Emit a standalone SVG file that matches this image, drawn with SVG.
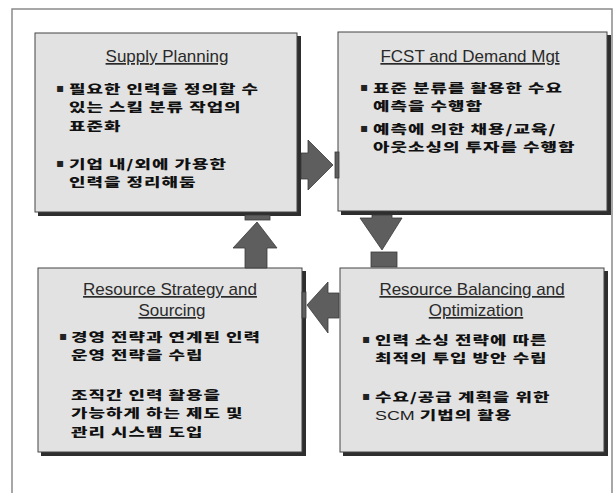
<svg xmlns="http://www.w3.org/2000/svg" width="614" height="493" viewBox="0 0 614 493">
<style>
.frame{fill:none;stroke:#8a8a8a;stroke-width:1.5}
.box{fill:#e2e2e2;stroke:#444;stroke-width:1}
.shadow{fill:#2e2e2e}
.title{font-family:"Liberation Sans",Arial,sans-serif;font-size:17px;fill:#2a2a2a;text-anchor:middle;text-decoration:underline}
.ko{font-family:"Noto Sans CJK KR","Noto Sans",sans-serif;font-size:16px;font-weight:900;fill:#111;letter-spacing:0.9px}
.lat{font-family:"Liberation Sans",Arial,sans-serif;font-weight:normal;letter-spacing:0;fill:#222}
.bul{font-family:"DejaVu Sans",sans-serif;font-size:12px;fill:#222}
.arrow{fill:#5e5e5e;stroke:#3a3a3a;stroke-width:0.8}
</style>
<rect x="0" y="0" width="614" height="493" fill="#ffffff"/>
<path class="frame" d="M12,493 V9 H612 V493"/>

<g id="supply-planning">
  <rect class="shadow" x="38" y="36" width="263" height="180"/>
  <rect class="box" x="35" y="33" width="262" height="179"/>
  <text class="title" x="167" y="62">Supply Planning</text>
  <text class="bul" x="56" y="92">▪</text>
  <text class="ko" transform="translate(69,94) scale(1.12,0.77)" x="0" y="0">필요한 인력을 정의할 수<tspan x="0" dy="24">있는 스킬 분류 작업의</tspan><tspan x="0" dy="24">표준화</tspan></text>
  <text class="bul" x="56" y="167">▪</text>
  <text class="ko" transform="translate(69,169) scale(1.12,0.77)" x="0" y="0">기업 내/외에 가용한<tspan x="0" dy="23.4">인력을 정리해둠</tspan></text>
</g>

<g id="fcst-demand">
  <rect class="shadow" x="341" y="35" width="270" height="180"/>
  <rect class="box" x="338" y="32" width="269" height="179"/>
  <text class="title" x="470" y="62">FCST and Demand Mgt</text>
  <text class="bul" x="360" y="91">▪</text>
  <text class="ko" transform="translate(373,93) scale(1.12,0.77)" x="0" y="0">표준 분류를 활용한 수요<tspan x="0" dy="23.4">예측을 수행함</tspan></text>
  <text class="bul" x="360" y="132">▪</text>
  <text class="ko" transform="translate(373,134) scale(1.12,0.77)" x="0" y="0">예측에 의한 채용/교육/<tspan x="0" dy="23.4">아웃소싱의 투자를 수행함</tspan></text>
</g>

<g id="resource-strategy">
  <rect class="shadow" x="41" y="271" width="265" height="185"/>
  <rect class="box" x="38" y="268" width="264" height="184"/>
  <text class="title" x="170" y="295">Resource Strategy and</text>
  <text class="title" x="172" y="316">Sourcing</text>
  <text class="bul" x="59" y="340">▪</text>
  <text class="ko" transform="translate(71,342) scale(1.12,0.77)" x="0" y="0">경영 전략과 연계된 인력<tspan x="0" dy="23.4">운영 전략을 수립</tspan></text>
  <text class="ko" transform="translate(71,400) scale(1.12,0.77)" x="0" y="0">조직간 인력 활용을<tspan x="0" dy="24">가능하게 하는 제도 및</tspan><tspan x="0" dy="24">관리 시스템 도입</tspan></text>
</g>

<g id="resource-balancing">
  <rect class="shadow" x="343" y="271" width="265" height="185"/>
  <rect class="box" x="340" y="268" width="264" height="184"/>
  <text class="title" x="472" y="295">Resource Balancing and</text>
  <text class="title" x="476" y="316">Optimization</text>
  <text class="bul" x="362" y="343">▪</text>
  <text class="ko" transform="translate(375,345) scale(1.12,0.77)" x="0" y="0">인력 소싱 전략에 따른<tspan x="0" dy="23.4">최적의 투입 방안 수립</tspan></text>
  <text class="bul" x="362" y="400">▪</text>
  <text class="ko" transform="translate(375,402) scale(1.12,0.77)" x="0" y="0">수요/공급 계획을 위한<tspan x="0" dy="23.4"><tspan class="lat">SCM </tspan>기법의 활용</tspan></text>
</g>

<g id="connectors">
  <path class="arrow" d="M301,153 H308 V140 L333,165 L308,190 V179 H301 Z"/>
  <rect class="arrow" x="335" y="152" width="4" height="26"/>
  <path class="arrow" d="M372,215 H392 V218 H402 L382,250 L360,218 H372 Z"/>
  <rect class="arrow" x="371" y="252" width="26" height="15"/>
  <path class="arrow" d="M339,293 H328 V282 L307,305 L328,333 V318 H339 Z"/>
  <rect class="arrow" x="302" y="292" width="4" height="26"/>
  <path class="arrow" d="M245,268 V248 H233 L257,222 L277,248 H267 V268 Z"/>
  <rect class="arrow" x="245" y="215" width="25" height="5"/>
</g>
</svg>
